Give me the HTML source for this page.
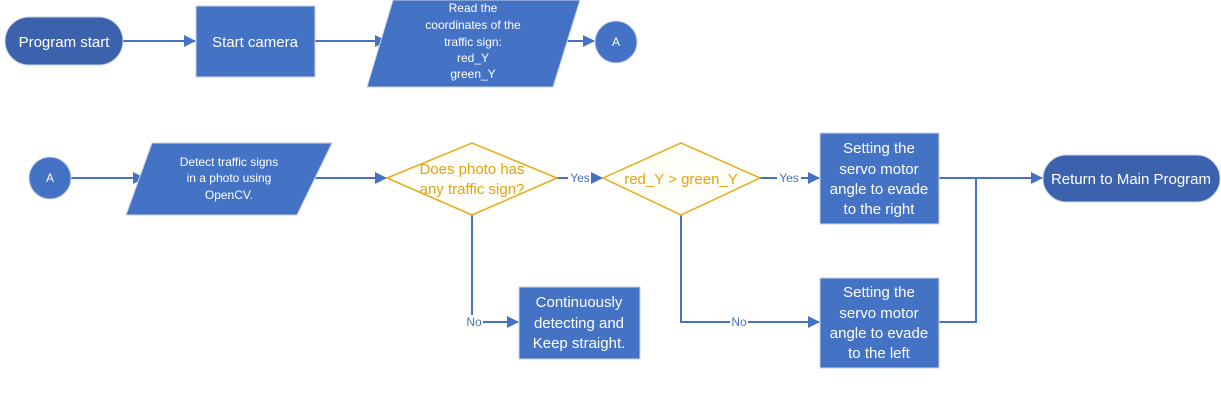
<!DOCTYPE html>
<html><head><meta charset="utf-8"><style>
html,body{margin:0;padding:0;background:#fff;}
svg{display:block;font-family:"Liberation Sans",sans-serif;}
</style></head><body>
<svg width="1221" height="403" viewBox="0 0 1221 403" xmlns="http://www.w3.org/2000/svg">
<defs>
<marker id="ar" markerWidth="12" markerHeight="12" refX="11" refY="6" orient="auto" markerUnits="userSpaceOnUse">
<path d="M0,0 L12,6 L0,12 z" fill="#4472C4"/></marker>
</defs>
<g stroke="#4472C4" stroke-width="2" fill="none">
<line x1="123" y1="41" x2="195" y2="41" marker-end="url(#ar)"/>
<line x1="315" y1="41" x2="386" y2="41" marker-end="url(#ar)"/>
<line x1="553" y1="41" x2="594" y2="41" marker-end="url(#ar)"/>
<line x1="71" y1="178" x2="144" y2="178" marker-end="url(#ar)"/>
<line x1="314" y1="178" x2="386" y2="178" marker-end="url(#ar)"/>
<line x1="557" y1="178" x2="568" y2="178"/>
<line x1="591" y1="178" x2="602" y2="178" marker-end="url(#ar)"/>
<line x1="760" y1="178" x2="777" y2="178"/>
<line x1="801" y1="178" x2="819" y2="178" marker-end="url(#ar)"/>
<line x1="939" y1="178" x2="1042" y2="178" marker-end="url(#ar)"/>
<polyline points="939,322 976,322 976,178"/>
<polyline points="472,215 472,315"/>
<line x1="483" y1="322" x2="518" y2="322" marker-end="url(#ar)"/>
<polyline points="681,215 681,322 730,322"/>
<line x1="748" y1="322" x2="819" y2="322" marker-end="url(#ar)"/>
</g>
<g fill="#4472C4" stroke="#c9d3e8" stroke-width="1">
<rect x="5" y="17" width="118" height="48" rx="24" fill="#3D62AD"/>
<rect x="196" y="6" width="119" height="71"/>
<polygon points="393,0 580,0 553,87 367,87"/>
<circle cx="616" cy="42" r="21"/>
<circle cx="50" cy="178" r="21"/>
<polygon points="152,143 332,143 297,215 126,215"/>
<rect x="820" y="133" width="119" height="91"/>
<rect x="820" y="278" width="119" height="90"/>
<rect x="519" y="287" width="121" height="72"/>
<rect x="1043" y="155" width="177" height="47" rx="23.5" fill="#3D62AD"/>
</g>
<g fill="#fffdf8" stroke="#E6AC17" stroke-width="1.5">
<polygon points="387,178 472,143 557,178 472,215"/>
<polygon points="603,178 681,143 760,178 681,215"/>
</g>
<g fill="#fff" text-anchor="middle" font-size="15">
<text x="64" y="47">Program start</text>
<text x="255" y="47">Start camera</text>
<g font-size="12">
<text x="473" y="12">Read the</text>
<text x="473" y="29">coordinates of the</text>
<text x="473" y="46">traffic sign:</text>
<text x="473" y="62">red_Y</text>
<text x="473" y="78">green_Y</text>
<text x="616" y="46">A</text>
<text x="50" y="182">A</text>
<text x="229" y="166">Detect traffic signs</text>
<text x="229" y="182">in a photo using</text>
<text x="229" y="199">OpenCV.</text>
</g>
<text x="879" y="153">Setting the</text>
<text x="879" y="174">servo motor</text>
<text x="879" y="194">angle to evade</text>
<text x="879" y="214">to the right</text>
<text x="879" y="297">Setting the</text>
<text x="879" y="318">servo motor</text>
<text x="879" y="338">angle to evade</text>
<text x="879" y="358">to the left</text>
<text x="579" y="307">Continuously</text>
<text x="579" y="328">detecting and</text>
<text x="579" y="348">Keep straight.</text>
<text x="1131" y="184">Return to Main Program</text>
</g>
<g fill="#E0A412" text-anchor="middle" font-size="15">
<text x="472" y="174">Does photo has</text>
<text x="472" y="194">any traffic sign?</text>
<text x="681" y="184">red_Y &gt; green_Y</text>
</g>
<g fill="#4472C4" text-anchor="middle" font-size="12">
<text x="580" y="182">Yes</text>
<text x="789" y="182">Yes</text>
<text x="474" y="326">No</text>
<text x="739" y="326">No</text>
</g>
</svg>
</body></html>
